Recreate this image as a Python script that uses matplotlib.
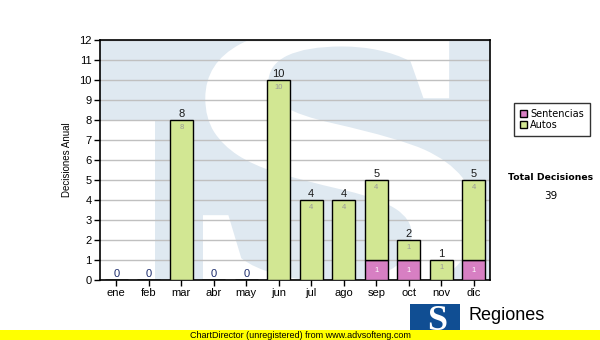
import matplotlib
matplotlib.use("Agg")
import matplotlib.pyplot as plt
from matplotlib.font_manager import FontProperties
from matplotlib.patches import Patch, PathPatch, Rectangle
from matplotlib.path import Path
from matplotlib.textpath import TextPath

months = ["ene", "feb", "mar", "abr", "may", "jun", "jul", "ago", "sep", "oct", "nov", "dic"]
sentencias = [0, 0, 0, 0, 0, 0, 0, 0, 1, 1, 0, 1]
autos = [0, 0, 8, 0, 0, 10, 4, 4, 4, 1, 1, 4]
total_decisiones = 39

GREEN = "#d2e793"
PINK = "#d77fc3"
WATERMARK = "#dfe9f1"
SANS = "Liberation Sans"

W, H = 600, 340
fig = plt.figure(figsize=(6, 3.4), dpi=100)
ax = fig.add_axes([100 / W, 60 / H, 390 / W, 240 / H])


def s_path(x0, y0, x1, y1):
    # big serif "S" glyph stretched into the box (axes fraction)
    tp = TextPath((0, 0), "S", size=100,
                  prop=FontProperties(family="Liberation Serif", weight="bold"))
    ext = tp.get_extents()
    verts = tp.vertices.copy()
    verts[:, 0] = x0 + (verts[:, 0] - ext.x0) / ext.width * (x1 - x0)
    verts[:, 1] = y0 + (verts[:, 1] - ext.y0) / ext.height * (y1 - y0)
    return Path(verts, tp.codes)


# faint logo watermark behind the bars
ax.set_facecolor(WATERMARK)
ax.add_patch(Rectangle((0, 0), 55 / 390, 160 / 240, transform=ax.transAxes,
                       facecolor="white", edgecolor="none", zorder=0))
ax.add_patch(PathPatch(s_path(0.264, -0.09, 0.962, 1.06), transform=ax.transAxes,
                       facecolor="white", edgecolor="none", zorder=0))

x = list(range(len(months)))
totals = [s + a for s, a in zip(sentencias, autos)]

ax.bar(x, sentencias, width=0.72, color=PINK, edgecolor="black", linewidth=1, zorder=3)
ax.bar(x, autos, width=0.72, bottom=sentencias, color=GREEN, edgecolor="black",
       linewidth=1, zorder=3)

for i in x:
    if sentencias[i]:
        ax.text(i, sentencias[i] / 2, str(sentencias[i]), ha="center", va="center",
                fontsize=5.5, color="white", family=SANS, zorder=4)
    if autos[i]:
        ax.text(i, totals[i] - 0.18, str(autos[i]), ha="center", va="top",
                fontsize=5.5, color="#9a9a9a", family=SANS, zorder=4)
    ax.text(i, totals[i] + 0.05, str(totals[i]), ha="center", va="bottom",
            fontsize=8, family=SANS,
            color="#1c2c6c" if totals[i] == 0 else "#1a1a1a", zorder=4)

ax.set_xlim(-0.5, 11.5)
ax.set_ylim(0, 12)
ax.set_yticks(range(13))
ax.set_xticks(x)
ax.set_xticklabels(months)
ax.tick_params(axis="both", labelsize=8, length=4, width=1, direction="out", pad=2)
for lab in ax.get_xticklabels() + ax.get_yticklabels():
    lab.set_family(SANS)
ax.yaxis.grid(True, color="#c0c0c0", linewidth=1, zorder=1)
ax.set_axisbelow(True)
for s in ax.spines.values():
    s.set_linewidth(1.2)
ax.set_ylabel("Decisiones Anual", fontsize=7, family=SANS, labelpad=5)

handles = [Patch(facecolor=PINK, edgecolor="black"), Patch(facecolor=GREEN, edgecolor="black")]
fig.legend(handles, ["Sentencias", "Autos"], loc="upper left",
           bbox_to_anchor=(509 / W, 1 - 98 / H), fontsize=7, frameon=True,
           fancybox=False, edgecolor="black", handlelength=0.8, handleheight=0.8,
           handletextpad=0.3, labelspacing=0.1, borderpad=0.6)

fig.text(551 / W, 1 - 178 / H, "Total Decisiones", fontsize=6.7, weight="bold",
         ha="center", va="center")
fig.text(551 / W, 1 - 196 / H, str(total_decisiones), fontsize=7.5, ha="center", va="center")

# logo at the bottom
fig.patches.append(Rectangle((410 / W, 1 - 338 / H), 50 / W, 34 / H,
                             transform=fig.transFigure, facecolor="#104e93",
                             edgecolor="none", zorder=1))
fig.text(437 / W, 1 - 322 / H, "S", fontsize=26, color="white", weight="bold",
         family="Liberation Serif", ha="center", va="center", zorder=2)
fig.text(468 / W, 1 - 315 / H, "Regiones", fontsize=13, family=SANS,
         ha="left", va="center", zorder=2)
fig.text(468 / W, 1 - 335 / H, "Tribunal Supremo de Justicia", fontsize=7, family=SANS,
         ha="left", va="center", zorder=2)

# unregistered banner
fig.patches.append(Rectangle((0, 0), 1, 10 / H, transform=fig.transFigure,
                             facecolor="#ffff00", edgecolor="none", zorder=5))
fig.text(190 / W, 5 / H, "ChartDirector (unregistered) from www.advsofteng.com",
         fontsize=6.5, family=SANS, ha="left", va="center", zorder=6)

fig.savefig("out.png", dpi=100)
